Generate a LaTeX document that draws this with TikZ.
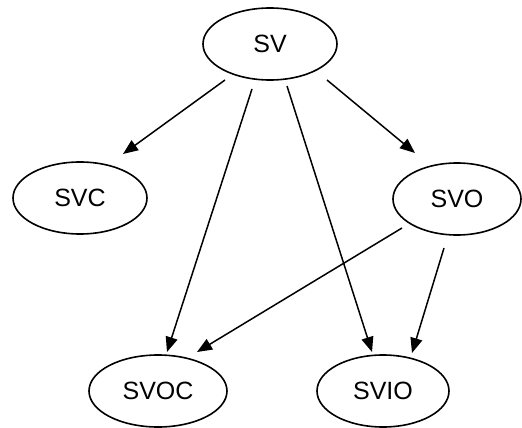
\documentclass[tikz,border=0pt]{standalone}
\usepackage{fontspec}
\setmainfont{Liberation Sans}
\usetikzlibrary{shapes.geometric,arrows.meta,calc}
\tikzset{
  ell/.style={draw=black, line width=1.6pt, ellipse, inner sep=0pt, minimum height=72pt,
    font=\fontsize{25}{30}\selectfont},
  arr/.style={draw=black, line width=1.5pt, -{Triangle[length=15pt,width=12pt]}}
}
\begin{document}
\begin{tikzpicture}[x=1pt,y=1pt]
\useasboundingbox (0,0) rectangle (522,-428);
\node[ell, minimum width=134pt] (SV) at (270,-44) {SV};
\node[ell, minimum width=134pt] (SVC) at (80,-198) {SVC};
\node[ell, minimum width=128pt] (SVO) at (457,-199) {SVO};
\node[ell, minimum width=138pt] (SVOC) at (158,-391) {SVOC};
\node[ell, minimum width=132pt] (SVIO) at (383,-391) {SVIO};
\draw[arr] ($(SV)+(-45,-36)$) -- ($(SVC)+(43,44)$);
\draw[arr] ($(SV)+(-18,-45)$) -- ($(SVOC)+(9,39)$);
\draw[arr] ($(SV)+(17,-42)$) -- ($(SVIO)+(-11,39)$);
\draw[arr] ($(SV)+(57,-36)$) -- ($(SVO)+(-42,46)$);
\draw[arr] ($(SVO)+(-55,-29)$) -- ($(SVOC)+(39,39)$);
\draw[arr] ($(SVO)+(-13,-49)$) -- ($(SVIO)+(29,38)$);
\end{tikzpicture}
\end{document}
